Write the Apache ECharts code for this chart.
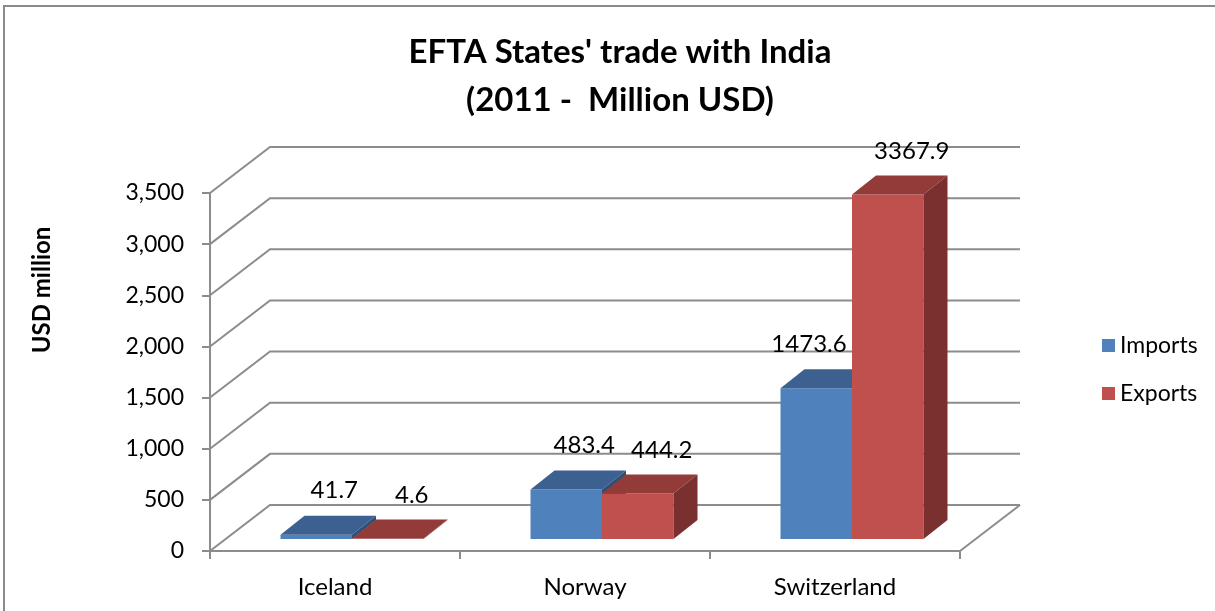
<!DOCTYPE html>
<html>
<head>
<meta charset="utf-8">
<script src="https://cdn.jsdelivr.net/npm/echarts@6/dist/echarts.min.js"></script>
<style>
html,body{margin:0;padding:0;background:#fff;}
#main{width:1215px;height:611px;}
</style>
</head>
<body>
<div id="main"></div>
<script>
var categories = ['Iceland', 'Norway', 'Switzerland'];
var imports = [41.7, 483.4, 1473.6];
var exports = [4.6, 444.2, 3367.9];
var yTicks = [0, 500, 1000, 1500, 2000, 2500, 3000, 3500];
var seriesNames = ['Imports', 'Exports'];

var FONT = 'Lato, "Open Sans", sans-serif';
var WALL_DX = 60, WALL_DY = 46;      // depth of the 3D box
var FACE_DX = 17, FACE_DY = 12;      // bar front face offset
var BAR_DX = 24, BAR_DY = 19;        // bar depth
var BAR_FRAC = 0.286;                // bar width as fraction of band
var GRID_COLOR = '#8c8c8c';
var LABEL_FONT = '24px ' + FONT;

var palette = {
  Imports: {front: '#4f81bd', top: '#3c6190', side: '#2f4f78'},
  Exports: {front: '#c0504d', top: '#923b39', side: '#7a302e'}
};

var chart = echarts.init(document.getElementById('main'), null, {renderer: 'canvas'});

function wallRender(params, api) {
  var cs = params.coordSys;
  var v = api.value(0);
  var y = api.coord([0, v])[1];
  var left = cs.x, right = cs.x + cs.width;
  var children = [{
    type: 'polyline',
    shape: {points: [[left, y], [left + WALL_DX, y - WALL_DY], [right + WALL_DX, y - WALL_DY]]},
    style: {stroke: GRID_COLOR, lineWidth: 2, fill: null}
  }];
  if (v === 0) {
    children.push({
      type: 'line',
      shape: {x1: right, y1: y, x2: right + WALL_DX, y2: y - WALL_DY},
      style: {stroke: GRID_COLOR, lineWidth: 2}
    });
  }
  return {type: 'group', children: children};
}

function barGeom(api, which, idx, val) {
  var base = api.coord([idx, 0]);
  var top = api.coord([idx, val]);
  var band = api.size([1, 0])[0];
  var w = band * BAR_FRAC;
  var x0 = base[0] + FACE_DX + (which === 0 ? -w : 0);
  return {x0: x0, x1: x0 + w, w: w, yb: base[1] - FACE_DY, yt: top[1] - FACE_DY};
}

function makeBarRender(which) {
  var col = palette[seriesNames[which]];
  return function (params, api) {
    var g = barGeom(api, which, api.value(0), api.value(1));
    var x0 = g.x0, x1 = g.x1, yt = g.yt, yb = g.yb;
    return {
      type: 'group',
      children: [
        {type: 'rect', shape: {x: x0, y: yt, width: g.w, height: yb - yt}, style: {fill: col.front}},
        {type: 'polygon', shape: {points: [[x0, yt], [x1, yt], [x1 + BAR_DX, yt - BAR_DY], [x0 + BAR_DX, yt - BAR_DY]]}, style: {fill: col.top}},
        {type: 'polygon', shape: {points: [[x1, yt], [x1 + BAR_DX, yt - BAR_DY], [x1 + BAR_DX, yb - BAR_DY], [x1, yb]]}, style: {fill: col.side}}
      ]
    };
  };
}

function labelRender(params, api) {
  var idx = api.value(0);
  var vi = api.value(1), ve = api.value(2);
  var gi = barGeom(api, 0, idx, vi);
  var ge = barGeom(api, 1, idx, ve);
  var half = 37;
  var ci = (gi.x0 + gi.x1) / 2 + 18, yi = gi.yt - 44;
  // keep the Imports label clear of a taller Exports bar
  if (ge.yt < yi + 14 && ci + half > ge.x0 - 6) ci = ge.x0 - 6 - half;
  var ce = (ge.x0 + ge.x1) / 2 + 24, ye = ge.yt - 43;
  return {
    type: 'group',
    children: [
      {type: 'text', x: ci, y: yi, style: {text: String(vi), font: LABEL_FONT, fill: '#000', align: 'center', verticalAlign: 'middle'}},
      {type: 'text', x: ce, y: ye, style: {text: String(ve), font: LABEL_FONT, fill: '#000', align: 'center', verticalAlign: 'middle'}}
    ]
  };
}

var option = {
  backgroundColor: '#fff',
  animation: false,
  grid: {left: 210, top: 193, width: 750, height: 358},
  legend: {
    orient: 'vertical',
    left: 1097, top: 328,
    icon: 'rect', itemWidth: 13, itemHeight: 13, itemGap: 23,
    textStyle: {fontFamily: FONT, fontSize: 23, color: '#000', lineHeight: 25},
    data: seriesNames
  },
  xAxis: {
    type: 'category',
    data: categories,
    boundaryGap: true,
    axisLine: {show: true, lineStyle: {color: GRID_COLOR, width: 2}},
    axisTick: {show: true, alignWithLabel: false, length: 8, lineStyle: {color: GRID_COLOR, width: 2}},
    axisLabel: {fontFamily: FONT, fontSize: 24, color: '#000', margin: 24},
    splitLine: {show: false}
  },
  yAxis: {
    type: 'value',
    min: 0, max: 3500, interval: 500,
    axisLine: {show: true, lineStyle: {color: GRID_COLOR, width: 2}},
    axisTick: {show: true, length: 8, lineStyle: {color: GRID_COLOR, width: 2}},
    axisLabel: {fontFamily: FONT, fontSize: 23, color: '#000', margin: 26,
      formatter: function (v) { return v.toLocaleString('en-US'); }},
    splitLine: {show: false}
  },
  graphic: [
    {type: 'rect', shape: {x: 4, y: 6, width: 1400, height: 800}, style: {fill: null, stroke: '#8a8a8a', lineWidth: 2}, z: -10},
    {type: 'text', x: 620, y: 52, style: {text: "EFTA States' trade with India", font: 'bold 33px ' + FONT, fill: '#000', align: 'center', verticalAlign: 'middle'}},
    {type: 'text', x: 620, y: 100, style: {text: '(2011 -  Million USD)', font: 'bold 33px ' + FONT, fill: '#000', align: 'center', verticalAlign: 'middle'}},
    {type: 'text', x: 42, y: 290, rotation: Math.PI / 2, style: {text: 'USD million', font: 'bold 24px ' + FONT, fill: '#000', align: 'center', verticalAlign: 'middle'}}
  ],
  series: [
    {
      type: 'custom', name: '_walls', silent: true, z: 1,
      renderItem: wallRender,
      data: yTicks.map(function (t) { return [t]; }),
      encode: {y: 0}
    },
    {
      type: 'custom', name: seriesNames[0], z: 2,
      itemStyle: {color: palette.Imports.front},
      renderItem: makeBarRender(0),
      data: categories.map(function (c, i) { return [i, imports[i]]; }),
      encode: {x: 0, y: 1}
    },
    {
      type: 'custom', name: seriesNames[1], z: 3,
      itemStyle: {color: palette.Exports.front},
      renderItem: makeBarRender(1),
      data: categories.map(function (c, i) { return [i, exports[i]]; }),
      encode: {x: 0, y: 1}
    },
    {
      type: 'custom', name: '_labels', silent: true, z: 10,
      renderItem: labelRender,
      data: categories.map(function (c, i) { return [i, imports[i], exports[i]]; }),
      encode: {x: 0, y: [1, 2]}
    }
  ]
};
chart.setOption(option);
</script>
</body>
</html>
